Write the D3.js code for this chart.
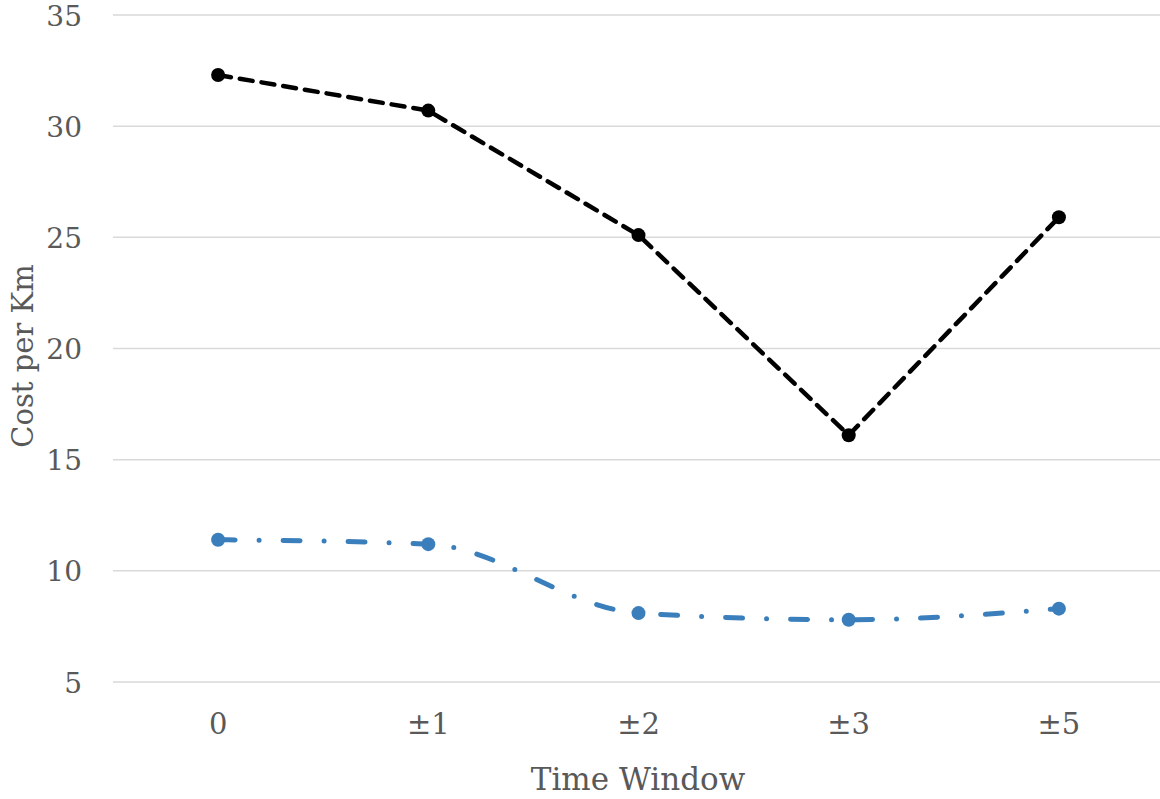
<!DOCTYPE html>
<html><head><meta charset="utf-8">
<script src="https://cdn.jsdelivr.net/npm/d3@7"></script>
<style>body{margin:0;background:#fff;} svg{display:block;}</style>
</head><body>
<svg id="chart" width="1160" height="799"></svg>
<script>
const categories = ["0", "±1", "±2", "±3", "±5"];
const seriesBlack = [32.3, 30.7, 25.1, 16.1, 25.9];
const seriesBlue = [11.4, 11.2, 8.1, 7.8, 8.3];
const yTicks = [5, 10, 15, 20, 25, 30, 35];

(function () {
const svg = d3.select("#chart");
const mLeft = 113, mRight = 1164, mTop = 15, mBottom = 682;
const x = d3.scaleBand().domain(categories).range([mLeft, mRight]);
const y = d3.scaleLinear().domain([5, 35]).range([mBottom, mTop]);
const font = "DejaVu Serif";
const textColor = "#595959";

// gridlines
svg.append("g").selectAll("line").data(yTicks).join("line")
  .attr("x1", mLeft).attr("x2", 1160)
  .attr("y1", d => y(d)).attr("y2", d => y(d))
  .attr("stroke", "#d9d9d9").attr("stroke-width", 1.5);

// y axis labels
const yAxis = d3.axisLeft(y).tickValues(yTicks).tickSize(0).tickPadding(0);
const gy = svg.append("g").attr("transform", `translate(82,0)`).call(yAxis);
gy.select(".domain").remove();
gy.selectAll("text").attr("font-family", font).attr("font-size", 28).attr("fill", textColor).attr("dy", "0.36em");

// x axis labels
const xAxis = d3.axisBottom(x).tickSize(0).tickPadding(0);
const gx = svg.append("g").attr("transform", `translate(0,713)`).call(xAxis);
gx.select(".domain").remove();
gx.selectAll("text").attr("font-family", font).attr("font-size", 29).attr("fill", textColor).attr("dy", "0.71em");

// titles
svg.append("text").attr("x", 638).attr("y", 790)
  .attr("text-anchor", "middle").attr("font-family", font).attr("font-size", 31)
  .attr("fill", textColor).text("Time Window");
svg.append("text").attr("transform", "translate(33,356) rotate(-90)")
  .attr("text-anchor", "middle").attr("font-family", font).attr("font-size", 29)
  .attr("fill", textColor).text("Cost per Km");

const cx = i => x(categories[i]) + x.bandwidth() / 2;

// black series
const lineBlack = d3.line().x((d, i) => cx(i)).y(d => y(d));
svg.append("path").datum(seriesBlack).attr("d", lineBlack)
  .attr("fill", "none").attr("stroke", "#000").attr("stroke-width", 4.5)
  .attr("stroke-dasharray", "13,9").attr("stroke-linecap", "round");
svg.append("g").selectAll("circle").data(seriesBlack).join("circle")
  .attr("cx", (d, i) => cx(i)).attr("cy", d => y(d)).attr("r", 7).attr("fill", "#000");

// blue series
const blue = "#3a7fbc";
const lineBlue = d3.line().x((d, i) => cx(i)).y(d => y(d)).curve(d3.curveMonotoneX);
svg.append("path").datum(seriesBlue).attr("d", lineBlue)
  .attr("fill", "none").attr("stroke", blue).attr("stroke-width", 5)
  .attr("stroke-dasharray", "17,24,0,24").attr("stroke-linecap", "round");
svg.append("g").selectAll("circle").data(seriesBlue).join("circle")
  .attr("cx", (d, i) => cx(i)).attr("cy", d => y(d)).attr("r", 7).attr("fill", blue);
})();
</script>
</body></html>
